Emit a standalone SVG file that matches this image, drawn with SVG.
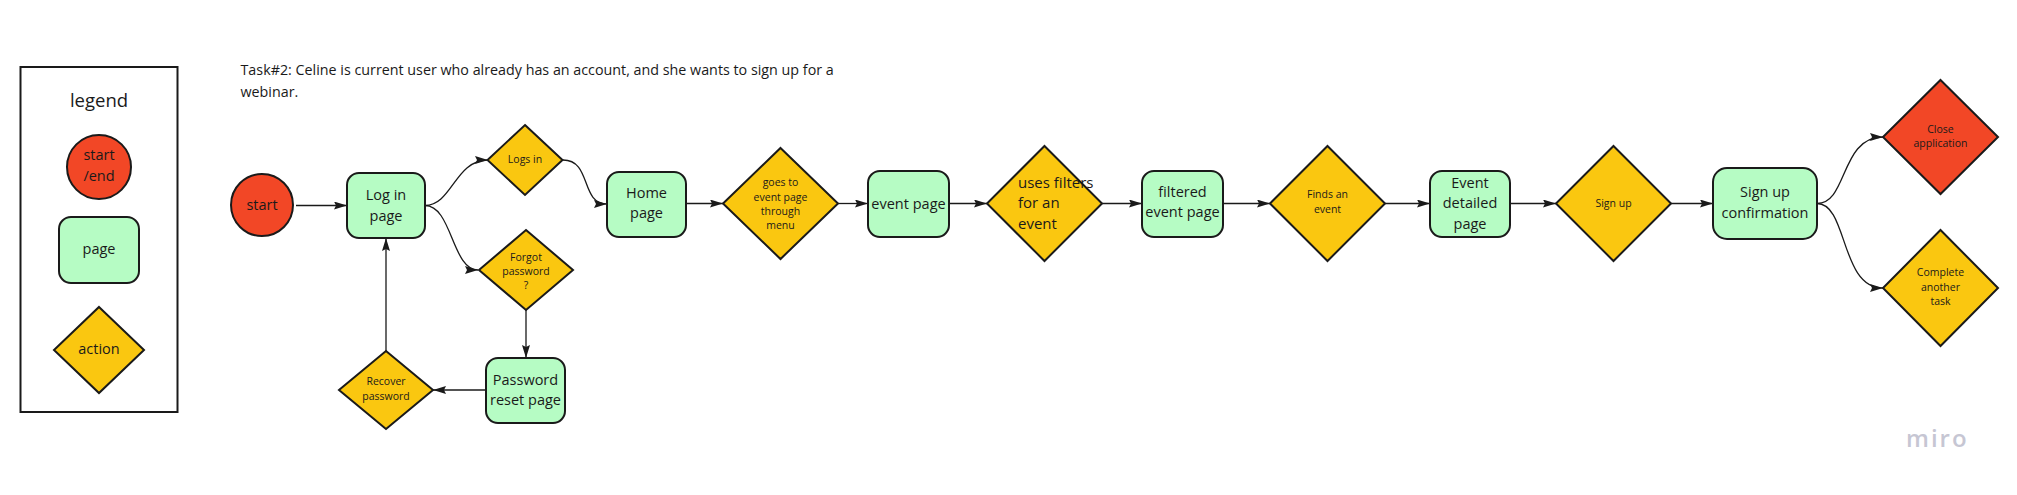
<svg xmlns="http://www.w3.org/2000/svg" width="2017" height="495" viewBox="0 0 2017 495">
<defs>
<style>
.t{font-family:"Open Sans","Liberation Sans",sans-serif;fill:#1a1a1a}
.big{font-size:14.5px;text-anchor:middle}
.sm{font-size:10.5px;text-anchor:middle}
.pg{fill:#b6fcc4;stroke:#1a1a1a;stroke-width:2}
.ac{fill:#fac710;stroke:#1a1a1a;stroke-width:2}
.rd{fill:#f24726;stroke:#1a1a1a;stroke-width:2}
.c{fill:none;stroke:#1a1a1a;stroke-width:1.3}
</style>
<marker id="ah" markerUnits="userSpaceOnUse" markerWidth="14" markerHeight="10" refX="13" refY="4" orient="auto">
<path d="M0,0 L13,4 L0,8 L2,4 z" fill="#1a1a1a"/>
</marker>
</defs>
<rect width="2017" height="495" fill="#ffffff"/>

<g id="legend">
<rect x="20.5" y="67" width="157" height="345" fill="#ffffff" stroke="#1a1a1a" stroke-width="2"/>
<text class="t" x="99" y="107" font-size="18.5" text-anchor="middle">legend</text>
<circle class="rd" cx="99" cy="167" r="32"/>
<text class="t big" x="99" y="160" font-size="15">start</text>
<text class="t big" x="99" y="181" font-size="15">/end</text>
<rect class="pg" x="59" y="217" width="80" height="66" rx="12"/>
<text class="t big" x="99" y="254">page</text>
<polygon class="ac" points="99,307 144,350 99,393 54,350"/>
<text class="t big" x="99" y="354">action</text>
</g>

<g id="title">
<text class="t" x="240.5" y="75" font-size="14.3">Task#2: Celine is current user who already has an account, and she wants to sign up for a</text>
<text class="t" x="240.5" y="97" font-size="14.3">webinar.</text>
</g>

<g id="connectors">
<path class="c" d="M296 205.5 L347 205.5" marker-end="url(#ah)"/>
<path class="c" d="M425 205.5 C452 205.5 455 160 488 160" marker-end="url(#ah)"/>
<path class="c" d="M425 205.5 C452 205.5 452 270 478 270" marker-end="url(#ah)"/>
<path class="c" d="M563 160 C592 160 580 204 607 204" marker-end="url(#ah)"/>
<path class="c" d="M526 310 L526 358" marker-end="url(#ah)"/>
<path class="c" d="M486 390 L433 390" marker-end="url(#ah)"/>
<path class="c" d="M386 351 L386 238" marker-end="url(#ah)"/>
<path class="c" d="M686 203.5 L723 203.5" marker-end="url(#ah)"/>
<path class="c" d="M838 203.5 L868 203.5" marker-end="url(#ah)"/>
<path class="c" d="M949 203.5 L987 203.5" marker-end="url(#ah)"/>
<path class="c" d="M1102 203.5 L1142 203.5" marker-end="url(#ah)"/>
<path class="c" d="M1223 203.5 L1270 203.5" marker-end="url(#ah)"/>
<path class="c" d="M1385 203.5 L1430 203.5" marker-end="url(#ah)"/>
<path class="c" d="M1510 203.5 L1556 203.5" marker-end="url(#ah)"/>
<path class="c" d="M1671 203.5 L1713 203.5" marker-end="url(#ah)"/>
<path class="c" d="M1817 203.5 C1848 203.5 1840 137 1883 137" marker-end="url(#ah)"/>
<path class="c" d="M1817 203.5 C1848 203.5 1840 288 1883 288" marker-end="url(#ah)"/>
</g>

<g id="start">
<circle class="rd" cx="262" cy="205" r="31"/>
<text class="t big" x="262" y="210">start</text>
</g>

<g id="login-page">
<rect class="pg" x="347" y="173" width="78" height="65" rx="12"/>
<text class="t big" x="386" y="200">Log in</text>
<text class="t big" x="386" y="221">page</text>
</g>

<g id="logs-in">
<polygon class="ac" points="525,125 562.5,160 525,195 487.5,160"/>
<text class="t sm" x="525" y="163">Logs in</text>
</g>

<g id="forgot-password">
<polygon class="ac" points="526,230 573,270 526,310 479,270"/>
<text class="t sm" x="526" y="261">Forgot</text>
<text class="t sm" x="526" y="275">password</text>
<text class="t sm" x="526" y="289">?</text>
</g>

<g id="password-reset-page">
<rect class="pg" x="486" y="358" width="79" height="65" rx="12"/>
<text class="t big" x="525.5" y="385">Password</text>
<text class="t big" x="525.5" y="405">reset page</text>
</g>

<g id="recover-password">
<polygon class="ac" points="386,351 433,390 386,429 339,390"/>
<text class="t sm" x="386" y="385">Recover</text>
<text class="t sm" x="386" y="400">password</text>
</g>

<g id="home-page">
<rect class="pg" x="607" y="172" width="79" height="65" rx="12"/>
<text class="t big" x="646.5" y="198">Home</text>
<text class="t big" x="646.5" y="218">page</text>
</g>

<g id="goes-to-event-page">
<polygon class="ac" points="780.5,148 838,203.5 780.5,259 723,203.5"/>
<text class="t sm" x="780.5" y="186">goes to</text>
<text class="t sm" x="780.5" y="201">event page</text>
<text class="t sm" x="780.5" y="215">through</text>
<text class="t sm" x="780.5" y="229">menu</text>
</g>

<g id="event-page">
<rect class="pg" x="868" y="171" width="81" height="66" rx="12"/>
<text class="t big" x="908.5" y="209">event page</text>
</g>

<g id="uses-filters">
<polygon class="ac" points="1044.5,146 1102,203.5 1044.5,261 987,203.5"/>
<text class="t" x="1018" y="188" font-size="15">uses filters</text>
<text class="t" x="1018" y="208" font-size="15">for an</text>
<text class="t" x="1018" y="229" font-size="15">event</text>
</g>

<g id="filtered-event-page">
<rect class="pg" x="1142" y="171" width="81" height="66" rx="12"/>
<text class="t big" x="1182.5" y="197">filtered</text>
<text class="t big" x="1182.5" y="217">event page</text>
</g>

<g id="finds-an-event">
<polygon class="ac" points="1327.5,146 1385,203.5 1327.5,261 1270,203.5"/>
<text class="t sm" x="1327.5" y="198">Finds an</text>
<text class="t sm" x="1327.5" y="213">event</text>
</g>

<g id="event-detailed-page">
<rect class="pg" x="1430" y="171" width="80" height="66" rx="12"/>
<text class="t big" x="1470" y="188">Event</text>
<text class="t big" x="1470" y="208">detailed</text>
<text class="t big" x="1470" y="229">page</text>
</g>

<g id="sign-up">
<polygon class="ac" points="1613.5,146 1671,203.5 1613.5,261 1556,203.5"/>
<text class="t sm" x="1613.5" y="207">Sign up</text>
</g>

<g id="sign-up-confirmation">
<rect class="pg" x="1713" y="168" width="104" height="71" rx="14"/>
<text class="t big" x="1765" y="197">Sign up</text>
<text class="t big" x="1765" y="218">confirmation</text>
</g>

<g id="close-application">
<polygon class="rd" points="1940.5,80 1998,137 1940.5,194 1883,137"/>
<text class="t sm" x="1940.5" y="133">Close</text>
<text class="t sm" x="1940.5" y="147">application</text>
</g>

<g id="complete-another-task">
<polygon class="ac" points="1940.5,230 1998,288 1940.5,346 1883,288"/>
<text class="t sm" x="1940.5" y="276">Complete</text>
<text class="t sm" x="1940.5" y="291">another</text>
<text class="t sm" x="1940.5" y="305">task</text>
</g>

<g id="watermark">
<text x="1906" y="447" font-family="'Open Sans','Liberation Sans',sans-serif" font-size="24" font-weight="600" letter-spacing="2" fill="#c6c6d3">miro</text>
</g>
</svg>
